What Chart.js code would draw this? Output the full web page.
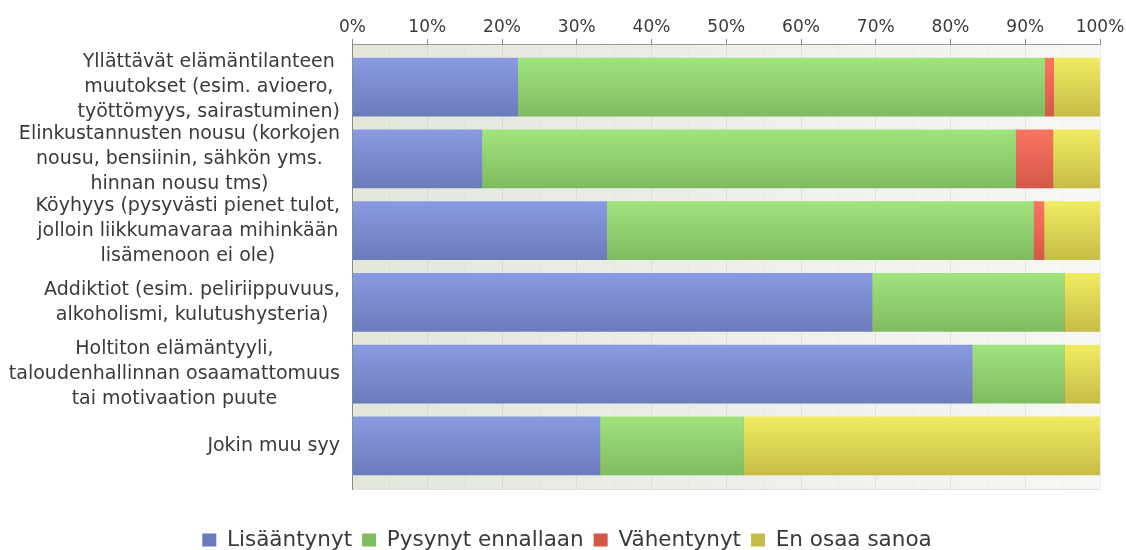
<!DOCTYPE html>
<html>
<head>
<meta charset="utf-8">
<script src="https://cdn.jsdelivr.net/npm/chart.js@4/dist/chart.umd.min.js"></script>
<style>
  html, body { margin: 0; padding: 0; background: #fff; }
</style>
</head>
<body>
<canvas id="chart" width="1126" height="550"></canvas>
<script>
const categories = [
  ['Yllättävät elämäntilanteen', 'muutokset (esim. avioero,', 'työttömyys, sairastuminen)'],
  ['Elinkustannusten nousu (korkojen', 'nousu, bensiinin, sähkön yms.', 'hinnan nousu tms)'],
  ['Köyhyys (pysyvästi pienet tulot,', 'jolloin liikkumavaraa mihinkään', 'lisämenoon ei ole)'],
  ['Addiktiot (esim. peliriippuvuus,', 'alkoholismi, kulutushysteria)'],
  ['Holtiton elämäntyyli,', 'taloudenhallinnan osaamattomuus', 'tai motivaation puute'],
  ['Jokin muu syy'],
];
const seriesNames = ['Lisääntynyt', 'Pysynyt ennallaan', 'Vähentynyt', 'En osaa sanoa'];
const lisaantynyt = [22.1, 17.3, 34.0, 69.5, 82.9, 33.1];
const pysynyt = [70.5, 71.4, 57.1, 25.7, 12.3, 19.2];
const vahentynyt = [1.2, 5.0, 1.4, 0, 0, 0];
const eiOsaa = [6.2, 6.3, 7.5, 4.8, 4.8, 47.7];
const xTicks = [0, 10, 20, 30, 40, 50, 60, 70, 80, 90, 100];

// top / bottom / legend colour for each series
const palette = [
  ['#8a9ae2', '#6c7bbb', '#7d8dd2'],
  ['#a0e47d', '#7fbb60', '#8ed06e'],
  ['#fb7462', '#d45848', '#ee6956'],
  ['#efec62', '#c6bd46', '#dcd654'],
];

const BAR_H = 58;

function barFill(i) {
  return function (ctx) {
    const c = palette[i];
    if (ctx.type !== 'data' || !ctx.chart.chartArea) return c[2];
    const y = ctx.chart.scales.y.getPixelForValue(ctx.dataIndex);
    const g = ctx.chart.ctx.createLinearGradient(0, y - BAR_H / 2, 0, y + BAR_H / 2);
    g.addColorStop(0, c[0]);
    g.addColorStop(1, c[1]);
    return g;
  };
}

const plotBackground = {
  id: 'plotBackground',
  beforeDraw(chart) {
    const { ctx, chartArea: a } = chart;
    const g = ctx.createLinearGradient(a.left, 0, a.right, 0);
    g.addColorStop(0, '#e2e7da');
    g.addColorStop(1, '#f7f7f5');
    ctx.save();
    ctx.fillStyle = g;
    ctx.fillRect(a.left, a.top, a.right - a.left, a.bottom - a.top);
    ctx.strokeStyle = 'rgba(0,0,0,0.12)';
    ctx.beginPath();
    ctx.moveTo(a.left, a.bottom + 0.5);
    ctx.lineTo(a.right, a.bottom + 0.5);
    ctx.stroke();
    ctx.restore();
  },
};

// category labels: block right-aligned, lines centred inside the block
const categoryLabels = {
  id: 'categoryLabels',
  afterDraw(chart) {
    const { ctx } = chart;
    const yScale = chart.scales.y;
    const right = 340;
    ctx.save();
    ctx.font = '19px "DejaVu Sans"';
    ctx.fillStyle = '#3a3a3a';
    ctx.textAlign = 'center';
    ctx.textBaseline = 'middle';
    categories.forEach((lines, i) => {
      const cy = yScale.getPixelForValue(i);
      const w = Math.max(...lines.map(l => ctx.measureText(l).width));
      const cx = right - w / 2;
      const lh = 25;
      lines.forEach((l, j) => {
        ctx.fillText(l, cx, cy + (j - (lines.length - 1) / 2) * lh);
      });
    });
    ctx.restore();
  },
};

const allSeries = [lisaantynyt, pysynyt, vahentynyt, eiOsaa];

Chart.defaults.font.family = '"DejaVu Sans", sans-serif';
Chart.defaults.color = '#3a3a3a';

new Chart(document.getElementById('chart').getContext('2d'), {
  type: 'bar',
  data: {
    labels: categories.map((c, i) => i),
    datasets: seriesNames.map((name, i) => ({
      label: name,
      data: allSeries[i],
      backgroundColor: barFill(i),
      borderWidth: 0,
      barThickness: BAR_H,
    })),
  },
  options: {
    indexAxis: 'y',
    responsive: false,
    animation: false,
    layout: { padding: { left: 34, right: 26, top: 0, bottom: -10.7 } },
    scales: {
      x: {
        position: 'top',
        stacked: true,
        min: 0,
        max: 100,
        afterFit(scale) { scale.height = 44; },
        afterBuildTicks(scale) {
          scale.ticks = [];
          for (let v = 0; v <= 100; v += 5) scale.ticks.push({ value: v });
        },
        ticks: {
          autoSkip: false,
          maxRotation: 0,
          padding: 1,
          color: '#3a3a3a',
          font: { size: 17 },
          callback: v => (xTicks.includes(v) ? v + '%' : ''),
        },
        grid: {
          drawTicks: true,
          tickLength: 5,
          color: ctx => (ctx.tick && ctx.tick.value % 10 === 0 ? 'rgba(0,0,0,0.07)' : 'rgba(0,0,0,0.025)'),
          tickColor: ctx => (ctx.tick && ctx.tick.value % 10 === 0 ? '#8a8a8a' : 'rgba(0,0,0,0)'),
        },
        border: { display: true, color: '#9a9a9a', width: 1 },
      },
      y: {
        type: 'linear',
        reverse: true,
        stacked: true,
        offset: false,
        min: -0.6,
        max: 5.6,
        afterFit(scale) { scale.width = 318.5; },
        ticks: { display: false },
        grid: { display: false, drawTicks: false, offset: false },
        border: { display: true, color: '#8a8a8a', width: 1 },
      },
    },
    plugins: {
      tooltip: { enabled: false },
      legend: {
        position: 'bottom',
        title: { display: true, text: '', font: { size: 1 }, padding: { top: 29, bottom: 0 } },
        labels: {
          boxWidth: 14,
          boxHeight: 13,
          padding: 10,
          color: '#3a3a3a',
          font: { size: 21.5 },
        },
      },
    },
  },
  plugins: [plotBackground, categoryLabels],
});
</script>
</body>
</html>
